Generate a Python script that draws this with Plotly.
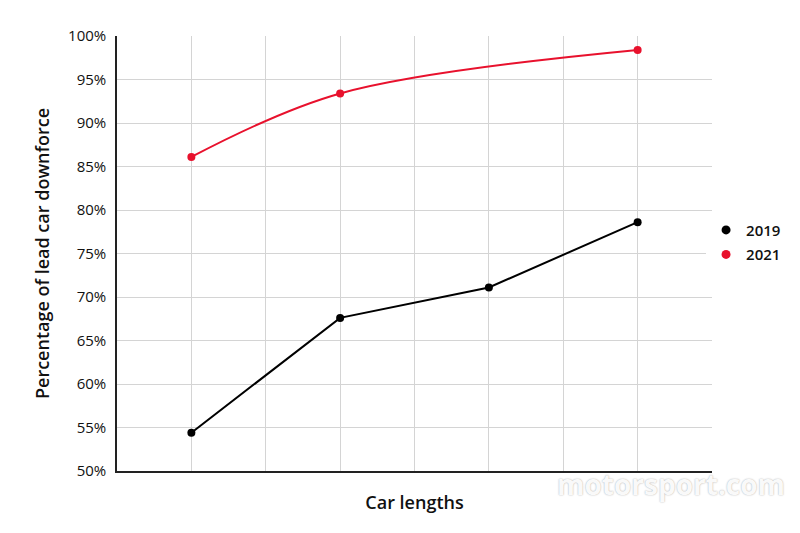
import plotly.graph_objects as go

car_lengths_2019 = [1, 3, 5, 7]
downforce_2019 = [54.4, 67.6, 71.1, 78.6]
car_lengths_2021 = [1, 3, 7]
downforce_2021 = [86.1, 93.4, 98.4]
y_ticks = [50, 55, 60, 65, 70, 75, 80, 85, 90, 95, 100]
y_labels = [f"{v}%" for v in y_ticks]

BLACK = "#000000"
RED = "#e8112d"

fig = go.Figure()
fig.add_trace(go.Scatter(
    x=car_lengths_2019, y=downforce_2019, name="2019", mode="lines+markers",
    line=dict(color=BLACK, width=2), marker=dict(color=BLACK, size=8),
    showlegend=False,
))
fig.add_trace(go.Scatter(
    x=car_lengths_2021, y=downforce_2021, name="2021", mode="lines+markers",
    line=dict(color=RED, width=2, shape="spline", smoothing=1.0),
    marker=dict(color=RED, size=8), showlegend=False,
))
# legend entries (markers only)
fig.add_trace(go.Scatter(x=[None], y=[None], name="2019", mode="markers",
                         legendgroup="a", marker=dict(color=BLACK, size=9)))
fig.add_trace(go.Scatter(x=[None], y=[None], name="2021", mode="markers",
                         legendgroup="b", marker=dict(color=RED, size=9)))

fig.update_layout(
    width=800, height=533,
    margin=dict(l=117, r=88, t=36, b=62, autoexpand=False),
    paper_bgcolor="white", plot_bgcolor="white",
    font=dict(family="Open Sans", color="#111111", size=15),
    legend=dict(x=0.99, y=0.526, xanchor="left", yanchor="middle",
                font=dict(size=15, color="#111111", weight=600),
                traceorder="grouped", tracegroupgap=2, itemwidth=30),
    xaxis=dict(
        range=[0, 8], tickmode="linear", tick0=0, dtick=1, showticklabels=False,
        showgrid=True, gridcolor="#d4d4d4", gridwidth=1, automargin=False,
        showline=True, linecolor="#222222", linewidth=1.5, zeroline=False,
        title=dict(text="Car lengths", font=dict(size=18, weight=600), standoff=25),
    ),
    yaxis=dict(
        range=[50, 100], tickmode="array", tickvals=y_ticks, ticktext=y_labels,
        showgrid=True, gridcolor="#d4d4d4", gridwidth=1, automargin=False,
        showline=True, linecolor="#222222", linewidth=1.5, zeroline=False,
        ticks="", ticklabelstandoff=6,
        tickfont=dict(size=15, weight=500, color="#111111"),
        title=dict(text="Percentage of lead car downforce", font=dict(size=18, weight=600), standoff=14),
    ),
)

fig.add_annotation(
    text="<b>motorsport.com</b>", x=1.126, y=-0.03, xref="paper", yref="paper",
    xanchor="right", yanchor="middle", showarrow=False,
    font=dict(size=28, color="rgba(255,255,255,0.95)", family="Open Sans",
              shadow="0 0 1.5px #9a9a9a"),
)

fig.write_html("out.html", config={"displayModeBar": False},
               post_script="document.body.style.margin='0';")
